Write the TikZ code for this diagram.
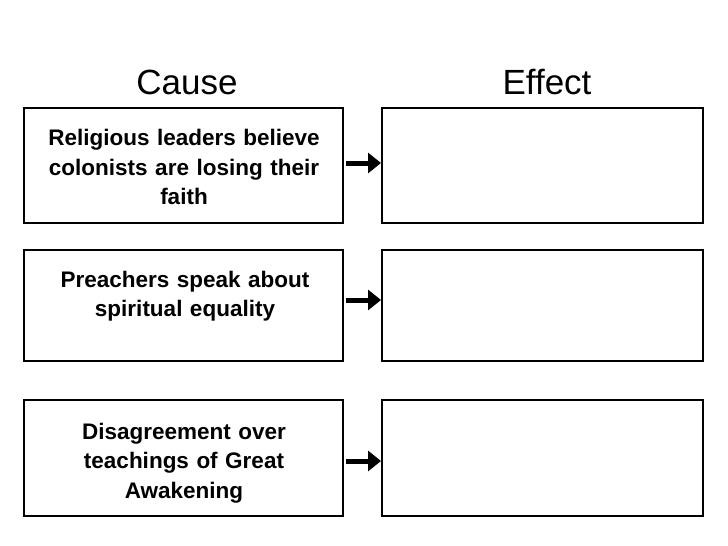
\documentclass[tikz,border=0pt]{standalone}
\usepackage{fontspec}
\setmainfont{Liberation Sans}
\usetikzlibrary{arrows.meta}
\begin{document}
\begin{tikzpicture}[x=1pt,y=-1pt,
  box/.style={draw,line width=2pt},
  txt/.style={align=center,font=\bfseries\fontsize{22.5}{29.5}\selectfont,text width=330pt},
  head/.style={font=\fontsize{35}{40}\selectfont},
  arr/.style={line width=5pt,-{Triangle[length=13pt,width=20pt]}}]
\useasboundingbox (0,0) rectangle (728,546);
\node[head] (c) at (187,82) {Cause};
\node[head] (e) at (547,82) {Effect};
\draw[box] (24,108) rectangle (343,223);
\draw[box] (24,250) rectangle (343,361);
\draw[box] (24,400) rectangle (343,516);
\draw[box] (382,108) rectangle (703,223);
\draw[box] (382,250) rectangle (703,361);
\draw[box] (382,400) rectangle (703,516);
\node[txt] (t1) at (184,167) {Religious leaders believe\\colonists are losing their\\faith};
\node[txt] (t2) at (185,296) {Preachers speak about\\spiritual equality};
\node[txt] (t3) at (184,463) {Disagreement over\\teachings of Great\\Awakening};
\coordinate (a1) at (346,163); \coordinate (b1) at (381,163);
\coordinate (a2) at (346,300); \coordinate (b2) at (381,300);
\coordinate (a3) at (346,461); \coordinate (b3) at (381,461);
\draw[arr] (a1) -- (b1);
\draw[arr] (a2) -- (b2);
\draw[arr] (a3) -- (b3);
\end{tikzpicture}
\end{document}
